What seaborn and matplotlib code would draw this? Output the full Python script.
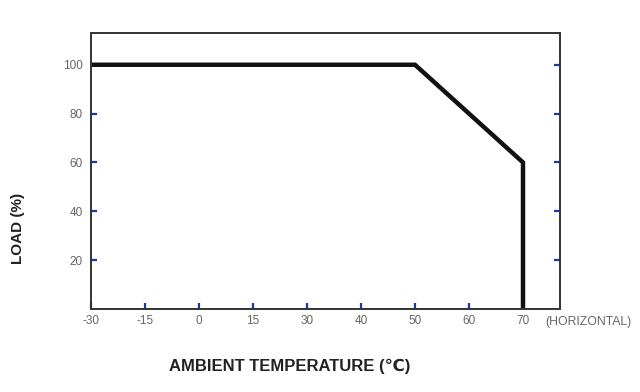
import matplotlib
matplotlib.use("Agg")
import matplotlib.pyplot as plt
import seaborn as sns
import pandas as pd

# data
x_tick_labels = [-30, -15, 0, 15, 30, 40, 50, 60, 70]
y_ticks = [20, 40, 60, 80, 100]
curve_temp = [-30, 50, 70, 70]
curve_load = [100, 100, 60, 0]

sns.set_style("white")
plt.rcParams['font.family'] = ['Liberation Sans', 'DejaVu Sans']

pos = {t: i for i, t in enumerate(x_tick_labels)}
df = pd.DataFrame({"x": [pos[t] for t in curve_temp], "load": curve_load})

fig = plt.figure(figsize=(6.4, 3.92), dpi=100)
ax = fig.add_axes([91/640, 1-309/392, (560-91)/640, (309-33)/392])

sns.lineplot(data=df, x="x", y="load", ax=ax, sort=False, color="#111111",
             linewidth=3.2, estimator=None, solid_joinstyle="miter")

ax.set_xlim(0, (560-91)/54.0)
ax.set_ylim(0, 113)
ax.set_xticks(range(len(x_tick_labels)))
ax.set_xticklabels([str(v) for v in x_tick_labels])
ax.set_yticks(y_ticks)
ax.set_yticklabels([str(v) for v in y_ticks])
ax.tick_params(axis='both', direction='in', length=4, width=1.6, color="#2233aa",
               labelsize=8.5, labelcolor="#666666", pad=4)
ax.tick_params(axis='y', right=True, left=True, labelright=False, pad=6)
ax.tick_params(axis='x', bottom=True, top=False)
for s in ax.spines.values():
    s.set_color("#333333")
    s.set_linewidth(1.4)
    s.set_visible(True)
ax.set_xlabel("")
ax.set_ylabel("")

fig.text(18/640, 1-228/392, "LOAD (%)", rotation=90, ha="center", va="center",
         fontsize=11, fontweight="bold", color="#222222")
fig.text(290/640, 1-366/392, "AMBIENT TEMPERATURE (\u2103)", ha="center", va="center",
         fontsize=12, fontweight="bold", color="#222222")
fig.text(545/640, 1-322/392, "(HORIZONTAL)", ha="left", va="center",
         fontsize=8.8, color="#666666")

fig.savefig("out.png", dpi=100)
